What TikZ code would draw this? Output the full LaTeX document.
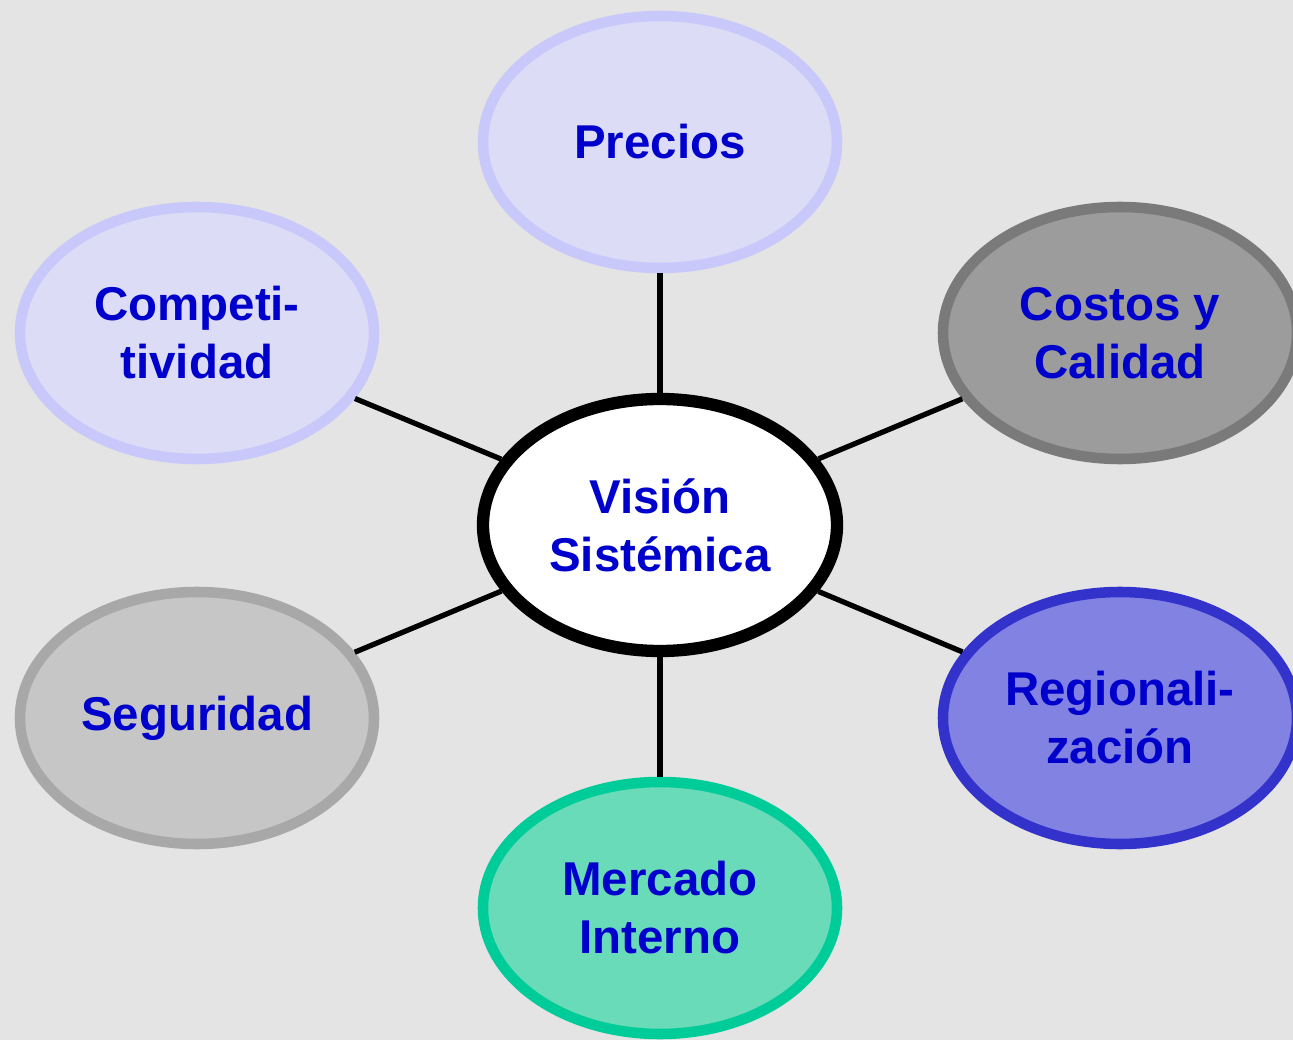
\documentclass[tikz,border=0pt]{standalone}
\usepackage{fontspec}
\setmainfont{Liberation Sans}
\usetikzlibrary{shapes.geometric}
\definecolor{txtblue}{HTML}{0000CC}
\definecolor{lavfill}{HTML}{DCDCF6}
\definecolor{lavline}{HTML}{C8C8FA}
\definecolor{darkfill}{HTML}{9C9C9C}
\definecolor{darkline}{HTML}{7A7A7A}
\definecolor{lightfill}{HTML}{C6C6C6}
\definecolor{lightline}{HTML}{A8A8A8}
\definecolor{regfill}{HTML}{8282E2}
\definecolor{regline}{HTML}{3333CC}
\definecolor{mktfill}{HTML}{6ADBB9}
\definecolor{mktline}{HTML}{00CC99}
\definecolor{bggray}{HTML}{E4E4E4}

\begin{document}
\begin{tikzpicture}[
  blob/.style={ellipse, minimum width=7.08cm, minimum height=5.04cm, inner sep=0pt,
    line width=6pt, align=center, text=txtblue,
    font=\fontsize{27}{33}\selectfont\bfseries},
  spoke/.style={line width=3pt, black}
  ]
  \clip (0,0) rectangle (25.86,20.8);
  \fill[bggray] (0,0) rectangle (25.86,20.8);

  % center
  \node[blob, draw=black, fill=white, line width=7pt] (vis) at (13.2,10.3) {Visión\\Sistémica};

  % outer ellipses
  \node[blob, draw=lavline, fill=lavfill] (pre) at (13.2,17.96) {Precios};
  \node[blob, draw=lavline, fill=lavfill] (com) at (3.94,14.14) {Competi-\\tividad};
  \node[blob, draw=darkline, fill=darkfill] (cos) at (22.4,14.14) {Costos y\\Calidad};
  \node[blob, draw=lightline, fill=lightfill] (seg) at (3.94,6.44) {Seguridad};
  \node[blob, draw=regline, fill=regfill] (reg) at (22.4,6.44) {Regionali-\\zación};
  \node[blob, draw=mktline, fill=mktfill] (mer) at (13.2,2.64) {Mercado\\Interno};

  % spokes
  \foreach \n in {pre,com,cos,seg,reg,mer}
    \draw[spoke] (vis) -- (\n);
\end{tikzpicture}
\end{document}
